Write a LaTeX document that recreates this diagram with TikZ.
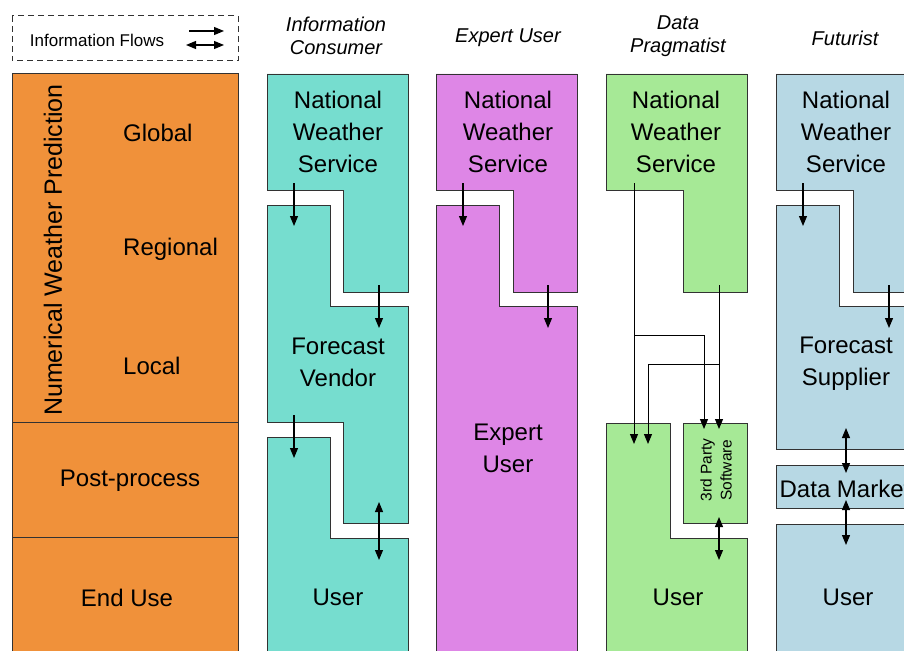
\documentclass[tikz,border=0pt]{standalone}
\usepackage{fontspec}
\setmainfont{Liberation Sans}
\usetikzlibrary{arrows.meta}
\definecolor{nwporange}{RGB}{240,145,58}
\definecolor{consumer}{RGB}{118,221,207}
\definecolor{expert}{RGB}{222,134,230}
\definecolor{pragma}{RGB}{166,233,150}
\definecolor{futur}{RGB}{183,216,228}
\definecolor{edgegray}{RGB}{50,50,50}
\begin{document}
\begin{tikzpicture}[x=1pt,y=-1pt,
  band/.style={draw=edgegray, line width=0.9pt},
  lbl/.style={font=\fontsize{24}{32}\selectfont, align=center, inner sep=0pt},
  hdr/.style={font=\itshape\fontsize{20}{23}\selectfont, align=center, inner sep=0pt},
  small/.style={font=\fontsize{17}{20}\selectfont, inner sep=0pt},
  flow/.style={line width=1.1pt, -{Triangle[length=10pt,width=8pt]}},
  flowboth/.style={line width=1.1pt, {Triangle[length=10pt,width=8pt]}-{Triangle[length=10pt,width=8pt]}},
  wire/.style={line width=1pt}
]
\useasboundingbox (0,0) rectangle (904,650);
\clip (0,0) rectangle (904,650);

% ---- legend ----
\draw[edgegray, line width=1pt, dash pattern=on 6pt off 4pt] (12,16) rectangle (238,61);
\node[small] (legend) at (97,40) {Information Flows};
\coordinate (lgA1) at (189,31); \coordinate (lgA2) at (224,31);
\coordinate (lgB1) at (186,45); \coordinate (lgB2) at (224,45);
\draw[flow] (lgA1) -- (lgA2);
\draw[flowboth] (lgB1) -- (lgB2);

% ---- stage column ----
\fill[nwporange] (12,73) rectangle (238,660);
\draw[band] (12,660) -- (12,73) -- (238,73) -- (238,660);
\draw[band] (12,422) -- (238,422);
\draw[band] (12,537) -- (238,537);
\node[lbl, rotate=90, font=\fontsize{25}{30}\selectfont] (nwp) at (53,250) {Numerical Weather Prediction};
\node[lbl, anchor=west] (global) at (123,133) {Global};
\node[lbl, anchor=west] (regional) at (123,249) {Regional};
\node[lbl, anchor=west] (local) at (123,366) {Local};
\node[lbl] (post) at (130,481) {Post-process};
\node[lbl] (enduse) at (127,598) {End Use};

% ---- column headers ----
\node[hdr] (hConsumer) at (336,36) {Information\\Consumer};
\node[hdr] (hExpert) at (508,38) {Expert User};
\node[hdr] (hPragma) at (678,36) {Data\\Pragmatist};
\node[hdr] (hFutur) at (845,38) {Futurist};

% ---- Information Consumer ----
\filldraw[band, fill=consumer] (267,74) -- (408,74) -- (408,292) -- (343,292) -- (343,190) -- (267,190) -- cycle;
\filldraw[band, fill=consumer] (267,205) -- (330,205) -- (330,306) -- (408,306) -- (408,523) -- (343,523) -- (343,422) -- (267,422) -- cycle;
\filldraw[band, fill=consumer] (267,660) -- (267,437) -- (330,437) -- (330,538) -- (408,538) -- (408,660);
\node[lbl] (cNWS) at (338,132) {National\\Weather\\Service};
\node[lbl] (cVendor) at (338,362) {Forecast\\Vendor};
\node[lbl] (cUser) at (338,597) {User};
\coordinate (c1a) at (294,183); \coordinate (c1b) at (294,226);
\coordinate (c2a) at (379,285); \coordinate (c2b) at (379,328);
\coordinate (c3a) at (294,415); \coordinate (c3b) at (294,458);
\coordinate (c4a) at (379,502); \coordinate (c4b) at (379,560);
\draw[flow] (c1a) -- (c1b);
\draw[flow] (c2a) -- (c2b);
\draw[flow] (c3a) -- (c3b);
\draw[flowboth] (c4a) -- (c4b);

% ---- Expert User ----
\filldraw[band, fill=expert] (436,74) -- (577,74) -- (577,292) -- (513,292) -- (513,190) -- (436,190) -- cycle;
\filldraw[band, fill=expert] (436,660) -- (436,205) -- (499,205) -- (499,306) -- (577,306) -- (577,660);
\node[lbl] (eNWS) at (508,132) {National\\Weather\\Service};
\node[lbl] (eUser) at (508,448) {Expert\\User};
\coordinate (e1a) at (463,183); \coordinate (e1b) at (463,226);
\coordinate (e2a) at (548,285); \coordinate (e2b) at (548,328);
\draw[flow] (e1a) -- (e1b);
\draw[flow] (e2a) -- (e2b);

% ---- Data Pragmatist ----
\filldraw[band, fill=pragma] (606,74) -- (747,74) -- (747,292) -- (683,292) -- (683,190) -- (606,190) -- cycle;
\filldraw[band, fill=pragma] (683,423) rectangle (747,523);
\filldraw[band, fill=pragma] (606,660) -- (606,423) -- (670,423) -- (670,538) -- (747,538) -- (747,660);
\node[lbl] (pNWS) at (676,132) {National\\Weather\\Service};
\node[font=\fontsize{15.5}{20}\selectfont, align=center, inner sep=0pt, rotate=90] (pSoft) at (716,470) {3rd Party\\Software};
\node[lbl] (pUser) at (678,597) {User};
\coordinate (pL) at (634,183);   % left feed out of the NWS block
\coordinate (pR) at (719,285);   % right feed out of the NWS block
\coordinate (pLj) at (634,335);
\coordinate (pRj) at (719,364);
\coordinate (pU1) at (634,444); \coordinate (pU2) at (648,444);
\coordinate (pS1) at (704,429); \coordinate (pS2) at (719,429);
\draw[wire, -{Triangle[length=10pt,width=8pt]}] (pL) -- (pU1);
\draw[wire, -{Triangle[length=10pt,width=8pt]}] (pR) -- (pS2);
\draw[wire, -{Triangle[length=10pt,width=8pt]}] (pLj) -| (pS1);
\draw[wire, -{Triangle[length=10pt,width=8pt]}] (pRj) -| (pU2);
\coordinate (p4a) at (719,517); \coordinate (p4b) at (719,560);
\draw[flowboth] (p4a) -- (p4b);

% ---- Futurist ----
\filldraw[band, fill=futur] (776,74) -- (917,74) -- (917,292) -- (853,292) -- (853,190) -- (776,190) -- cycle;
\filldraw[band, fill=futur] (776,205) -- (839,205) -- (839,306) -- (917,306) -- (917,449) -- (776,449) -- cycle;
\filldraw[band, fill=futur] (776,465) rectangle (917,508);
\filldraw[band, fill=futur] (776,660) -- (776,524) -- (917,524) -- (917,660);
\node[lbl] (fNWS) at (846,132) {National\\Weather\\Service};
\node[lbl] (fSupplier) at (846,364) {Forecast\\Supplier};
\node[lbl] (fMarket) at (845,489) {Data Market};
\node[lbl] (fUser) at (848,597) {User};
\coordinate (f1a) at (803,183); \coordinate (f1b) at (803,226);
\coordinate (f2a) at (889,285); \coordinate (f2b) at (889,328);
\coordinate (f3a) at (846,428); \coordinate (f3b) at (846,473);
\coordinate (f4a) at (846,500); \coordinate (f4b) at (846,545);
\draw[flow] (f1a) -- (f1b);
\draw[flow] (f2a) -- (f2b);
\draw[flowboth] (f3a) -- (f3b);
\draw[flowboth] (f4a) -- (f4b);
\end{tikzpicture}
\end{document}
